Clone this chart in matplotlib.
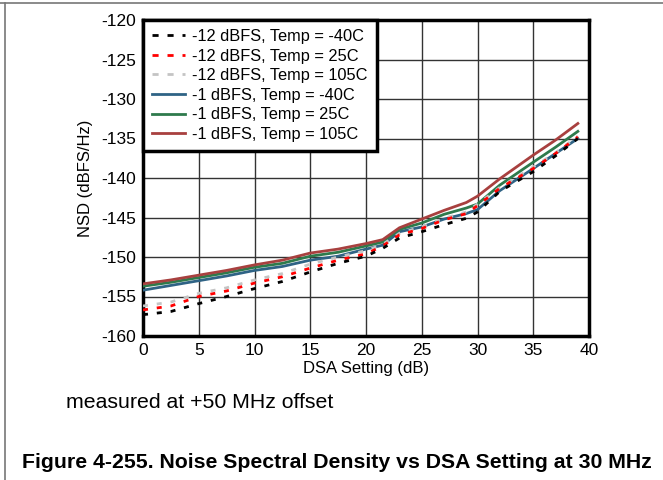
import matplotlib
matplotlib.use('Agg')
import matplotlib.pyplot as plt
from matplotlib.lines import Line2D

plt.rcParams['font.family'] = ['Liberation Sans', 'DejaVu Sans']
plt.rcParams['axes.unicode_minus'] = False

# DSA setting (dB)
dsa = [0, 2.5, 5, 7.5, 10, 12.5, 15, 17.5, 20, 21.5, 23, 25, 27, 29, 30, 32, 35, 37, 39]

# NSD (dBFS/Hz)
nsd_m12_m40 = [-157.3, -156.9, -155.9, -155.0, -154.0, -153.1, -151.9, -150.8, -149.9, -148.9,
               -147.6, -146.8, -145.9, -145.1, -144.3, -141.7, -139.2, -137.2, -135.0]
nsd_m12_25 = [-156.7, -156.2, -155.0, -154.3, -153.3, -152.5, -151.4, -150.4, -149.6, -148.6,
              -147.2, -146.4, -145.3, -144.5, -143.5, -141.3, -138.8, -136.9, -134.8]
nsd_m12_105 = [-156.2, -155.7, -154.6, -153.9, -152.9, -152.1, -150.9, -150.0, -149.2, -148.4,
               -147.0, -146.2, -145.1, -144.3, -143.3, -141.2, -138.6, -136.8, -134.7]
nsd_m1_m40 = [-154.2, -153.6, -153.0, -152.4, -151.7, -151.2, -150.4, -149.9, -149.0, -148.5,
              -146.8, -146.2, -145.2, -144.5, -144.0, -141.6, -138.8, -136.9, -135.0]
nsd_m1_25 = [-153.7, -153.2, -152.6, -152.0, -151.3, -150.8, -149.9, -149.4, -148.6, -148.1,
             -146.5, -145.7, -144.6, -143.8, -143.3, -140.9, -138.0, -136.1, -134.1]
nsd_m1_105 = [-153.4, -152.9, -152.3, -151.7, -151.0, -150.4, -149.5, -149.0, -148.3, -147.8,
              -146.3, -145.2, -144.1, -143.1, -142.3, -140.1, -137.1, -135.2, -133.1]

labels = ['-12 dBFS, Temp = -40C', '-12 dBFS, Temp = 25C', '-12 dBFS, Temp = 105C',
          '-1 dBFS, Temp = -40C', '-1 dBFS, Temp = 25C', '-1 dBFS, Temp = 105C']

fig = plt.figure(figsize=(6.63, 4.80), dpi=100)
ax = fig.add_axes([143/663, 1 - 336/480, (589-143)/663, (336-20)/480])

dash = (0, (1.8, 3.2))
ax.plot(dsa, nsd_m1_m40, color='#2f6385', lw=2, zorder=3)
ax.plot(dsa, nsd_m1_25, color='#2e7a4c', lw=2, zorder=3)
ax.plot(dsa, nsd_m1_105, color='#a8403f', lw=2, zorder=3)
ax.plot(dsa, nsd_m12_105, color='#c4c4c4', lw=2, ls=dash, zorder=4)
ax.plot(dsa, nsd_m12_25, color='#ff0000', lw=2, ls=dash, zorder=4)
ax.plot(dsa, nsd_m12_m40, color='black', lw=2, ls=dash, zorder=4)

ax.set_xlim(0, 40)
ax.set_ylim(-160, -120)
ax.set_xticks(range(0, 41, 5))
ax.set_yticks(range(-160, -119, 5))
ax.grid(True, color='#333333', lw=1)
ax.tick_params(length=0, labelsize=12.5, pad=5)
for s in ax.spines.values():
    s.set_linewidth(2.5)
ax.set_xlabel('DSA Setting (dB)', fontsize=12, labelpad=2)
ax.set_ylabel('NSD (dBFS/Hz)', fontsize=12, labelpad=6)

hdash = (0, (2.2, 3.2))
handles = [Line2D([], [], color='black', lw=2, ls=hdash),
           Line2D([], [], color='#ff0000', lw=2, ls=hdash),
           Line2D([], [], color='#c4c4c4', lw=2, ls=hdash),
           Line2D([], [], color='#2f6385', lw=2),
           Line2D([], [], color='#2e7a4c', lw=2),
           Line2D([], [], color='#a8403f', lw=2)]
leg = ax.legend(handles, labels, loc='upper left', bbox_to_anchor=(0, 1), fontsize=11.8,
                fancybox=False, framealpha=1, edgecolor='black', borderaxespad=0,
                handlelength=2.0, handletextpad=0.45, labelspacing=0.28,
                borderpad=0.55)
leg.get_frame().set_linewidth(2.5)

fig.text(66/663, 1 - 402/480, 'measured at +50 MHz offset', fontsize=15.3, va='center')
fig.text(22/663, 1 - 462/480, 'Figure 4-255. Noise Spectral Density vs DSA Setting at 30 MHz',
         fontsize=15.3, fontweight='bold', va='center')

# page frame lines (top and left)
fig.add_artist(Line2D([0, 1], [1 - 2.5/480, 1 - 2.5/480], color='#777777', lw=1.2))
fig.add_artist(Line2D([5/663, 5/663], [0, 1 - 2.5/480], color='#777777', lw=1.2))

fig.savefig('out.png', dpi=100)
